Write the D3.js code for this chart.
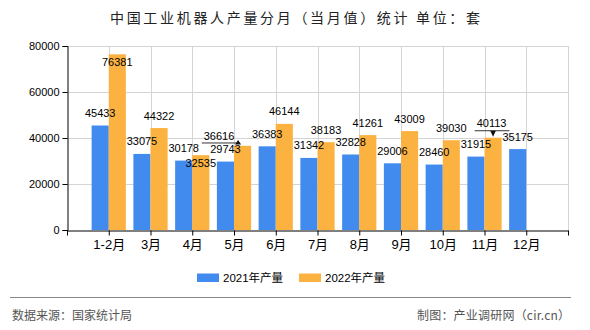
<!DOCTYPE html>
<html><head><meta charset="utf-8">
<script src="https://cdn.jsdelivr.net/npm/d3@7"></script>
<style>
html,body{margin:0;padding:0;background:#fff;}
svg{display:block;}
</style></head>
<body>
<svg id="chart" width="590" height="330"></svg>
<script>
const title = "中国工业机器人产量分月（当月值）统计 单位：套";
const categories = ["1-2月","3月","4月","5月","6月","7月","8月","9月","10月","11月","12月"];
const seriesNames = ["2021年产量","2022年产量"];
const values2021 = [45433,33075,30178,29743,36383,31342,32828,29006,28460,31915,35175];
const values2022 = [76381,44322,32535,36616,46144,38183,41261,43009,39030,40113,null];
const yTicks = [0,20000,40000,60000,80000];
const sourceText = "数据来源：国家统计局";
const creditText = "制图：产业调研网（cir.cn）";

(function(){
const colors = ["#428BEE","#FCB241"];
const font = "'Liberation Sans','Noto Sans CJK SC',sans-serif";
const cjk = "'Noto Sans CJK SC','Liberation Sans',sans-serif";

const svg = d3.select("#chart");
svg.append("rect").attr("width",590).attr("height",330).attr("fill","#fff");

const pL = 67, pR = 568, pT = 46, pB = 230;
const x = d3.scaleLinear().domain([0, categories.length + 1]).range([pL, pR]);
const y = d3.scaleLinear().domain([0, 80000]).range([pB, pT]);
const step = x(1) - x(0);
const bw = step * 0.41;

// title
svg.append("text").attr("x",110).attr("y",22.5)
  .attr("textLength",370).attr("lengthAdjust","spacing")
  .style("font-family",cjk).style("font-size","14px").attr("fill","#222")
  .text(title);

// grid
const grid = svg.append("g");
grid.selectAll(".h").data(yTicks.filter(d=>d>0)).join("line")
  .attr("x1",pL).attr("x2",pR).attr("y1",d=>Math.round(y(d))+0.5).attr("y2",d=>Math.round(y(d))+0.5)
  .attr("stroke","#d4d4d4");
grid.selectAll(".v").data(d3.range(1, categories.length + 2)).join("line")
  .attr("x1",d=>Math.round(x(d))+0.5).attr("x2",d=>Math.round(x(d))+0.5).attr("y1",pT).attr("y2",pB)
  .attr("stroke","#d4d4d4");

// bars
const series = [values2021, values2022];
series.forEach((vals, s) => {
  svg.append("g").selectAll("rect").data(vals.map((v,i)=>({v,i})).filter(d=>d.v!=null)).join("rect")
    .attr("x", d => s===0 ? x(d.i+1) - bw : x(d.i+1))
    .attr("y", d => y(d.v))
    .attr("width", bw)
    .attr("height", d => pB - y(d.v))
    .attr("fill", colors[s]);
});

// axes
const yAxis = svg.append("g").attr("transform",`translate(${pL+0.5},0)`)
  .call(d3.axisLeft(y).tickValues(yTicks).tickFormat(d3.format("d")).tickSize(5).tickPadding(3));
yAxis.select(".domain").attr("stroke","#000");
yAxis.selectAll(".tick line").attr("stroke","#000");
yAxis.selectAll("text").style("font-family",font).style("font-size","11px").attr("fill","#000");

const xAxis = svg.append("g").attr("transform",`translate(0,${pB+0.5})`)
  .call(d3.axisBottom(x).tickValues(d3.range(0, categories.length + 2))
    .tickFormat(d => (d>=1 && d<=categories.length) ? categories[d-1] : "")
    .tickSize(5).tickPadding(4).tickSizeOuter(0));
xAxis.select(".domain").attr("stroke","#000");
xAxis.selectAll(".tick line").attr("stroke","#000");
xAxis.selectAll("text").style("font-family",font).style("font-size","13px").attr("fill","#000");

// labels
const labelG = svg.append("g").style("font-family",font).style("font-size","11px").attr("fill","#000");
const placed = [];
const calloutCfg = {};
calloutCfg["1-" + categories.indexOf("5月")] = {dx:-23.5, base:-6, lineY:-2.8, arrow:"up"};
calloutCfg["1-" + categories.indexOf("11月")] = {dx:-1.5, base:-10.4, lineY:-7, arrow:"down"};

const items = [];
categories.forEach((c,i)=>{
  series.forEach((vals,s)=>{
    if (vals[i]==null) return;
    items.push({s,i,v:vals[i],cx: s===0 ? x(i+1)-bw/2 : x(i+1)+bw/2, top:y(vals[i])});
  });
});
function overlaps(a,b){
  return a.x0 < b.x1 && b.x0 < a.x1 && a.y0 < b.y1 && b.y0 < a.y1;
}
items.forEach(it=>{
  const t = labelG.append("text").attr("text-anchor","middle").text(it.v);
  const w = t.node().getComputedTextLength();
  const cfg = calloutCfg[it.s + "-" + it.i];
  if (cfg) {
    const lx = it.cx + cfg.dx, base = it.top + cfg.base;
    t.attr("x", lx).attr("y", base);
    const ly = it.top + cfg.lineY;
    const x0 = lx - w/2 - 2;
    let x1 = lx + w/2 + 3;
    if (cfg.arrow === "up") x1 = it.cx - 2.5;
    labelG.append("line").attr("x1",x0).attr("x2",x1).attr("y1",ly).attr("y2",ly)
      .attr("stroke","#333").attr("stroke-width",1);
    let tri;
    if (cfg.arrow === "down") {
      const ax = it.cx;
      tri = [[ax-2.8, ly],[ax+2.8, ly],[ax, it.top-1]];
    } else {
      const ax = it.cx - 4.5;
      tri = [[ax-3, ly+1.5],[ax+3, ly+1.5],[ax, ly-3]];
    }
    labelG.append("path").attr("d", d3.line()(tri) + "Z").attr("fill","#111");
    placed.push({x0:lx-w/2,x1:lx+w/2,y0:base-9,y1:base+1});
    return;
  }
  let base = it.top - 8.5;
  let box = {x0:it.cx-w/2, x1:it.cx+w/2, y0:base-9, y1:base+1};
  if (box.y0 < pT || placed.some(p=>overlaps(p,box))) {
    base = it.top + 12;
    box = {x0:it.cx-w/2, x1:it.cx+w/2, y0:base-9, y1:base+1};
  }
  t.attr("x", it.cx).attr("y", base);
  placed.push(box);
});

// legend
const lg = svg.append("g");
const legendX = [197, 299];
seriesNames.forEach((n,s)=>{
  lg.append("rect").attr("x",legendX[s]).attr("y",273.5).attr("width",22).attr("height",8.5).attr("fill",colors[s]);
  lg.append("text").attr("x",legendX[s]+26).attr("y",281.5)
    .style("font-family",font).style("font-size","11.5px").attr("fill","#000").text(n);
});

// footer
svg.append("line").attr("x1",10).attr("x2",571).attr("y1",297.5).attr("y2",297.5)
  .attr("stroke","#888").attr("stroke-width",1.2);
svg.append("text").attr("x",12).attr("y",319.5)
  .style("font-family",cjk).style("font-size","12px").attr("fill","#555").text(sourceText);
svg.append("text").attr("x",417).attr("y",319.5).attr("textLength",153).attr("lengthAdjust","spacing")
  .style("font-family",cjk).style("font-size","12px").attr("fill","#555").text(creditText);
})();
</script>
</body></html>
